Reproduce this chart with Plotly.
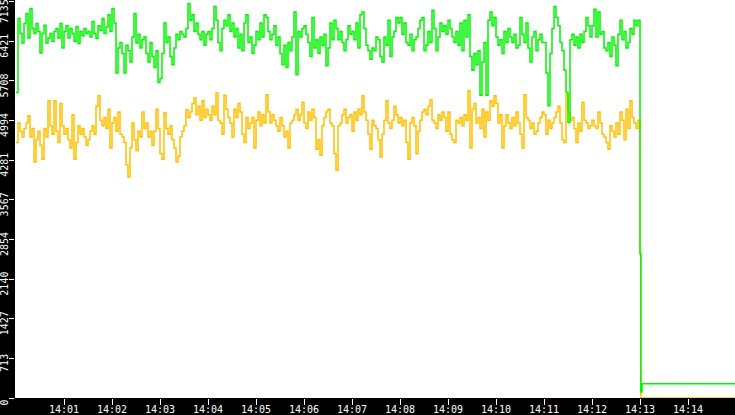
import pandas as pd
import plotly.graph_objects as go

# one sample every 2.5 s from 14:00:00
green_vals = [
    5500, 6830, 6560, 6390, 6740, 6920, 6480, 7010, 6650, 6560, 6740, 6600, 6210, 6560, 6710, 6390, 6480, 6560, 6420, 6600, 6650, 6480, 6740, 6300,
    6600, 6700, 6480, 6650, 6560, 6420, 6690, 6380, 6600, 6520, 6650, 6560, 6600, 6500, 6780, 6560, 6470, 6700, 6620, 6830, 6560, 6680, 6900, 6600,
    7010, 6750, 5850, 6300, 6400, 6200, 5850, 6350, 6250, 6050, 6500, 6920, 6390, 6550, 6300, 6450, 6500, 6200, 6050, 6400, 6150, 5950, 6250, 5680,
    5750, 6200, 6750, 6400, 6500, 6150, 6000, 6300, 6550, 6450, 6600, 6550, 6500, 6650, 7100, 6800, 6900, 6600, 6750, 6550, 6450, 6600, 6350, 6550,
    6600, 6450, 6650, 7050, 6800, 6400, 6250, 6650, 6800, 6700, 6900, 6600, 6750, 6500, 6650, 6300, 6550, 6250, 6750, 6900, 6400, 6500, 6200, 6350,
    6600, 6450, 6750, 6500, 6900, 6850, 6600, 6450, 6550, 6700, 6350, 6500, 6200, 6000, 6350, 5950, 6400, 6250, 6500, 6950, 5820, 6600, 6500, 6650,
    6700, 6550, 6400, 6150, 6850, 6300, 6450, 6200, 6500, 6350, 6550, 5980, 6300, 6750, 6450, 6800, 6650, 6450, 6600, 6400, 6250, 6450, 6700, 6550,
    6600, 6450, 6750, 6300, 6900, 6950, 6650, 6350, 6250, 6100, 6300, 6250, 6500, 6450, 6150, 6050, 6500, 6350, 6800, 6150, 6500, 6600, 6850, 6750,
    6850, 6550, 6750, 6400, 6350, 6550, 6250, 6450, 6500, 6650, 6800, 6850, 6250, 6350, 6600, 6400, 6980, 6650, 6250, 6500, 6750, 6600, 6700, 6550,
    6800, 6650, 6500, 6400, 6600, 6350, 6750, 6250, 6800, 6500, 6900, 6150, 5900, 6200, 6000, 6250, 5450, 6050, 6400, 5450, 6800, 6950, 6700, 6850,
    6500, 6350, 6450, 6200, 6600, 6400, 6650, 6500, 6400, 6550, 6300, 6350, 6850, 6550, 6400, 6750, 6300, 6050, 6500, 6600, 6250, 6450, 6550, 6400,
    6400, 5850, 5260, 6200, 6650, 7050, 6850, 6700, 6400, 6250, 5900, 5500, 4960, 6450, 6550, 6350, 6500, 6300, 6550, 6400, 6600, 6850, 6700, 6500,
    6700, 7000, 6500, 6950, 6550, 6600, 6300, 6250, 6400, 6150, 6500, 6350, 5980, 6550, 6800, 6450, 6600, 6300, 6400, 6650, 6550, 6800, 6700, 6800,
]
yellow_vals = [
    4600, 4950, 4800, 4700, 4850, 4950, 5080, 4700, 4850, 4250, 4650, 4800, 4550, 4300, 4850, 4700, 5350, 4900, 4750, 5350, 4800, 4600, 5300, 4900,
    4750, 4850, 4650, 4500, 5100, 4300, 4600, 4900, 4750, 4850, 4700, 4550, 4650, 4800, 4900, 4750, 5250, 5440, 5000, 4900, 5050, 4850, 5200, 4500,
    4950, 5050, 4800, 5150, 4750, 4700, 4600, 4200, 3980, 4500, 4950, 4650, 4450, 4800, 4700, 5150, 4850, 4950, 4700, 4800, 4550, 4800, 5200, 4850,
    4400, 4300, 5140, 4850, 4750, 4900, 4650, 4500, 4250, 4350, 4700, 4800, 4900, 5190, 5050, 5150, 5300, 5400, 5100, 5250, 5000, 5350, 5050, 5200,
    5100, 5000, 5250, 5100, 5490, 5000, 4950, 4750, 5450, 5200, 5050, 4950, 4700, 5200, 5050, 5300, 5150, 4750, 4600, 5050, 4850, 4950, 5050, 4500,
    5000, 5150, 4900, 5100, 4950, 5460, 5150, 4950, 5100, 5000, 4900, 4800, 5050, 4900, 4700, 4800, 4500, 4950, 5000, 5100, 5200, 5000, 5100, 5320,
    4950, 4850, 5150, 5000, 5200, 5050, 4480, 4650, 4370, 4900, 5050, 5150, 5200, 4950, 4900, 4400, 4100, 4900, 4950, 5100, 5200, 4950, 5050, 5100,
    4800, 5150, 5000, 5200, 5100, 5440, 5150, 5000, 4750, 4480, 5000, 4900, 4850, 4650, 4340, 4750, 5000, 5350, 4950, 4850, 5000, 5250, 5100, 4950,
    5050, 4900, 5000, 4600, 4300, 4950, 5050, 4900, 4400, 4800, 5000, 5150, 5200, 5100, 5250, 5370, 5000, 4950, 4850, 5100, 5000, 5150, 5050, 4800,
    5150, 4750, 4650, 4600, 5000, 4950, 5050, 4900, 5100, 5000, 5530, 4500, 5200, 5300, 4950, 5050, 4850, 5200, 4700, 5150, 5000, 5350, 5250, 5440,
    5300, 4950, 5100, 4500, 4900, 5100, 4950, 4850, 5050, 4900, 5150, 4950, 4750, 4500, 5460, 5050, 5000, 4850, 4950, 4750, 4800, 4950, 5050, 5150,
    5100, 4750, 5000, 4850, 4950, 5050, 5150, 5250, 4950, 4650, 4600, 5460, 5150, 5000, 5050, 4850, 4600, 4950, 4800, 5320, 5000, 4950, 4850, 4900,
    5000, 4900, 4850, 5150, 4950, 4750, 4700, 4600, 4480, 4900, 4800, 4700, 4950, 4750, 5150, 5000, 4650, 5200, 4850, 5350, 5050, 4950, 4850, 5000,
]
# the drop at 14:13 and the flat tail after it
tail_times = ["2024-01-01 14:13:00", "2024-01-01 14:13:01", "2024-01-01 14:13:02.5", "2024-01-01 14:14:59"]
tail_green = [2600, 110, 255, 255]
tail_yellow = [2600, 0, 0, 0]

x_tick_labels = ["14:01", "14:02", "14:03", "14:04", "14:05", "14:06", "14:07",
                 "14:08", "14:09", "14:10", "14:11", "14:12", "14:13", "14:14"]
y_tick_labels = ["0", "713", "1427", "2140", "2854", "3567", "4281", "4994", "5708", "6421", "7135"]
y_step = 713.5

times = list(pd.date_range("2024-01-01 14:00:00", periods=len(green_vals), freq="2500ms"))
times = times + list(pd.to_datetime(tail_times, format="mixed"))
x_tick_vals = pd.to_datetime(["2024-01-01 " + t for t in x_tick_labels])
y_tick_vals = [i * y_step for i in range(len(y_tick_labels))]

fig = go.Figure()
fig.add_trace(go.Scatter(x=times, y=yellow_vals + tail_yellow, mode="lines",
                         line=dict(color="rgb(255,192,0)", width=1.5, shape="hv")))
fig.add_trace(go.Scatter(x=times, y=green_vals + tail_green, mode="lines",
                         line=dict(color="rgb(0,245,0)", width=1.5, shape="hv")))
# empty trace so the second y axis (carrying the top label, nudged down) is drawn
fig.add_trace(go.Scatter(x=[], y=[], yaxis="y2", hoverinfo="skip"))

yfont = dict(family="DejaVu Sans Mono", size=10, color="white")

fig.update_layout(
    width=735, height=415,
    margin=dict(l=15, r=0, t=0, b=17, autoexpand=False),
    paper_bgcolor="black", plot_bgcolor="white",
    showlegend=False,
    yaxis2=dict(
        overlaying="y", side="left", automargin=False,
        range=[0, 7165],
        tickvals=y_tick_vals[-1:], ticktext=y_tick_labels[-1:],
        tickangle=-90, ticklabelshift=11, ticklabelstandoff=-3,
        ticklabeloverflow="allow",
        ticks="outside", ticklen=5, tickcolor="white", tickwidth=1,
        tickfont=yfont,
        showgrid=False, zeroline=False, showline=False,
    ),
)
fig.update_xaxes(
    type="date", automargin=False,
    range=["2024-01-01 13:59:58.75", "2024-01-01 14:14:58.75"],
    tickvals=x_tick_vals, ticktext=x_tick_labels,
    ticks="outside", ticklen=6, tickcolor="white", tickwidth=1,
    ticklabelstandoff=-4,
    tickfont=dict(family="DejaVu Sans Mono", size=10, color="white"),
    showgrid=False, zeroline=False, showline=False,
)
fig.update_layout(yaxis=dict(
    automargin=False,
    range=[0, 7165],
    tickvals=y_tick_vals[:-1], ticktext=y_tick_labels[:-1],
    tickangle=-90, ticklabelshift=6, ticklabelstandoff=-3,
    ticklabeloverflow="allow",
    ticks="outside", ticklen=5, tickcolor="white", tickwidth=1,
    tickfont=yfont,
    showgrid=False, zeroline=False, showline=False,
))

fig.write_html("out.html", config={"displayModeBar": False},
               post_script="document.body.style.margin='0';")
